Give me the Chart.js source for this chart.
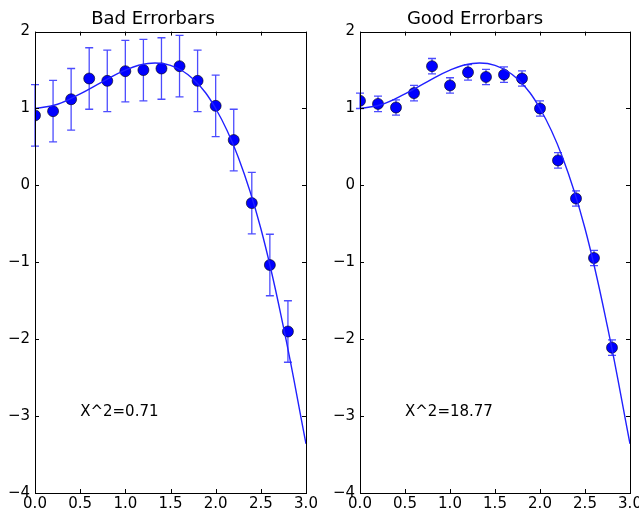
<!DOCTYPE html>
<html>
<head>
<meta charset="utf-8">
<script src="https://cdn.jsdelivr.net/npm/chart.js@4"></script>
<style>
  body { margin:0; background:#fff; overflow:hidden; }
  #left { position:absolute; left:0; top:0; }
  #right { position:absolute; left:320px; top:0; }
</style>
</head>
<body>
<canvas id="left" width="320" height="512"></canvas>
<canvas id="right" width="319" height="512"></canvas>
<script>
/* ------------------ Data ------------------ */
const xs = [0, 0.2, 0.4, 0.6, 0.8, 1.0, 1.2, 1.4, 1.6, 1.8, 2.0, 2.2, 2.4, 2.6, 2.8];
const badY = [0.91, 0.965, 1.12, 1.39, 1.36, 1.485, 1.50, 1.52, 1.55, 1.36, 1.035, 0.59, -0.23, -1.035, -1.90];
const badErr = [0.4, 0.4, 0.4, 0.4, 0.4, 0.4, 0.4, 0.4, 0.4, 0.4, 0.4, 0.4, 0.4, 0.4, 0.4];
const goodY = [1.10, 1.06, 1.013, 1.20, 1.55, 1.30, 1.47, 1.41, 1.44, 1.39, 1.00, 0.325, -0.17, -0.944, -2.11];
const goodErr = [0.1, 0.1, 0.1, 0.1, 0.1, 0.1, 0.1, 0.1, 0.1, 0.1, 0.1, 0.1, 0.1, 0.1, 0.1];
const curveX = [0, 0.25, 0.5, 0.75, 1.0, 1.25, 1.5, 1.75, 2.0, 2.25, 2.5, 2.75, 3.0];
const curveY = [1.0, 1.055, 1.19, 1.35, 1.50, 1.586, 1.56, 1.383, 1.0, 0.367, -0.56, -1.84, -3.36];
const xTicks = [0, 0.5, 1.0, 1.5, 2.0, 2.5, 3.0];
const yTicks = [-4, -3, -2, -1, 0, 1, 2];

const FONT = "'DejaVu Sans', sans-serif";

/* ------------------ Plugins ------------------ */
const errorBars = {
  id: 'errorBars',
  beforeDatasetsDraw(chart, args, opts) {
    const { ctx, scales: { x, y } } = chart;
    const pts = chart.data.datasets[1].data;
    ctx.save();
    ctx.strokeStyle = 'rgba(0,0,255,0.7)';
    ctx.lineWidth = 1.3;
    pts.forEach((p, i) => {
      const px = x.getPixelForValue(p.x);
      const t = y.getPixelForValue(p.y + opts.err[i]);
      const b = y.getPixelForValue(p.y - opts.err[i]);
      ctx.beginPath();
      ctx.moveTo(px, t); ctx.lineTo(px, b);
      ctx.moveTo(px - 4, t); ctx.lineTo(px + 4, t);
      ctx.moveTo(px - 4, b); ctx.lineTo(px + 4, b);
      ctx.stroke();
    });
    ctx.restore();
  }
};

const frame = {
  id: 'frame',
  afterDraw(chart, args, opts) {
    const { ctx, chartArea: a, scales: { x, y } } = chart;
    ctx.save();
    ctx.strokeStyle = '#000';
    ctx.lineWidth = 1;
    ctx.beginPath();
    xTicks.forEach(v => {
      const px = Math.round(x.getPixelForValue(v)) + 0.5;
      ctx.moveTo(px, a.bottom); ctx.lineTo(px, a.bottom - 4);
      ctx.moveTo(px, a.top); ctx.lineTo(px, a.top + 4);
    });
    yTicks.forEach(v => {
      const py = Math.round(y.getPixelForValue(v)) + 0.5;
      ctx.moveTo(a.left, py); ctx.lineTo(a.left + 4, py);
      ctx.moveTo(a.right, py); ctx.lineTo(a.right - 4, py);
    });
    ctx.stroke();
    ctx.strokeRect(Math.round(a.left) + 0.5, Math.round(a.top) + 0.5, Math.round(a.right - a.left), Math.round(a.bottom - a.top));
    // chi-square note
    ctx.fillStyle = '#000';
    ctx.font = '15px ' + FONT;
    ctx.textAlign = 'left';
    ctx.textBaseline = 'alphabetic';
    ctx.fillText(opts.text, x.getPixelForValue(0.5), y.getPixelForValue(-3));
    ctx.restore();
  }
};

/* ------------------ Build a panel ------------------ */
function makeChart(id, title, ys, errs, note, yWidth, padRight) {
  const ctx = document.getElementById(id).getContext('2d');
  return new Chart(ctx, {
    type: 'scatter',
    data: {
      datasets: [
        { type: 'line', data: curveX.map((v, i) => ({ x: v, y: curveY[i] })),
          borderColor: '#2020ff', borderWidth: 1.4, pointRadius: 0, tension: 0.4, fill: false },
        { data: xs.map((v, i) => ({ x: v, y: ys[i] })),
          backgroundColor: '#0000ff', borderColor: '#000', borderWidth: 0.6, pointRadius: 5.5, pointHoverRadius: 5.5 }
      ]
    },
    options: {
      responsive: false,
      animation: false,
      layout: { autoPadding: false, padding: { left: 0, right: padRight, top: 0, bottom: 0 } },
      plugins: {
        legend: { display: false },
        tooltip: { enabled: false },
        title: { display: true, text: title, color: '#000', font: { family: FONT, size: 18, weight: 'normal' }, padding: { top: 9, bottom: 1 } },
        errorBars: { err: errs },
        frame: { text: note }
      },
      scales: {
        x: {
          min: 0, max: 3,
          grid: { display: false, drawTicks: false }, border: { display: false },
          afterBuildTicks: s => { s.ticks = xTicks.map(v => ({ value: v })); },
          afterFit: s => { s.height = 19; s.paddingLeft = 0; s.paddingRight = 0; },
          ticks: { color: '#000', padding: 2, autoSkip: false, maxRotation: 0, font: { family: FONT, size: 15 },
                   callback: v => v.toFixed(1) }
        },
        y: {
          min: -4, max: 2,
          grid: { display: false, drawTicks: false }, border: { display: false },
          afterBuildTicks: s => { s.ticks = yTicks.map(v => ({ value: v })); },
          afterFit: s => { s.width = yWidth; s.paddingTop = 0; s.paddingBottom = 0; },
          ticks: { color: '#000', padding: 5, font: { family: FONT, size: 15 },
                   callback: v => String(v).replace('-', '\u2212') }
        }
      }
    },
    plugins: [errorBars, frame]
  });
}

makeChart('left', 'Bad Errorbars', badY, badErr, 'X^2=0.71', 35, 14);
makeChart('right', 'Good Errorbars', goodY, goodErr, 'X^2=18.77', 40, 9);
</script>
</body>
</html>
